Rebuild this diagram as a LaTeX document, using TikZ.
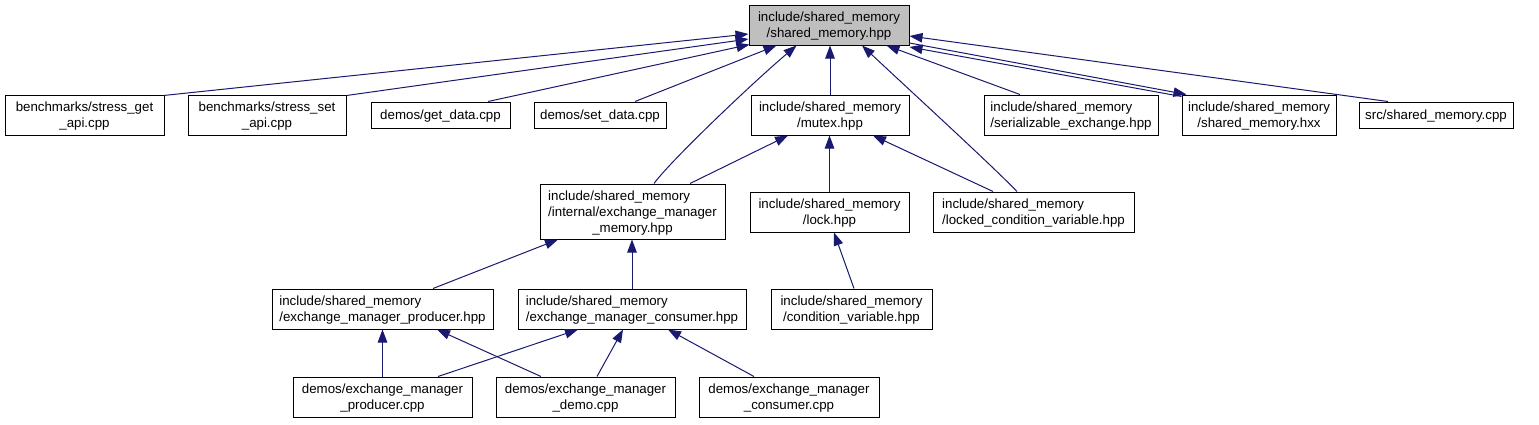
\documentclass[tikz,border=0pt]{standalone}
\usepackage{fontspec}
\setmainfont{Liberation Sans}
\usetikzlibrary{arrows.meta,calc}
\definecolor{edgeblue}{HTML}{191970}
\definecolor{hdrgray}{HTML}{BFBFBF}
\newcommand\lcen[1]{\multicolumn{1}{@{}c@{}}{#1}}
\newcommand\lbl[1]{\raisebox{0pt}[\height][\dimexpr\depth-3pt\relax]{\begin{tabular}{@{}l@{}}#1\end{tabular}}}
\tikzset{
  box/.style={draw=black, line width=1pt, fill=white, inner sep=0pt,
    font=\fontsize{13.3}{16}\selectfont},
  dep/.style={draw=edgeblue, line width=1pt, -{Triangle[length=13pt,width=9.5pt]}}
}
\begin{document}
\begin{tikzpicture}[x=1pt,y=-1pt]
\useasboundingbox (0,0) rectangle (1539,424);
% row 0
\node[box, fill=hdrgray, minimum width=160pt, minimum height=40pt] (shm) at (829,25) {\lbl{include/shared\_memory\\ \lcen{/shared\_memory.hpp}}};
% row 1
\node[box, minimum width=159pt, minimum height=40pt] (sget) at (84.5,115) {\lbl{benchmarks/stress\_get\\ \lcen{\_api.cpp}}};
\node[box, minimum width=158pt, minimum height=40pt] (sset) at (267,115) {\lbl{benchmarks/stress\_set\\ \lcen{\_api.cpp}}};
\node[box, minimum width=139pt, minimum height=26pt] (getd) at (440.5,115) {\lbl{demos/get\_data.cpp}};
\node[box, minimum width=132pt, minimum height=26pt] (setd) at (600,115) {\lbl{demos/set\_data.cpp}};
\node[box, minimum width=158pt, minimum height=40pt] (mutex) at (830,115) {\lbl{include/shared\_memory\\ \lcen{/mutex.hpp}}};
\node[box, minimum width=174pt, minimum height=40pt] (ser) at (1071,115) {\lbl{include/shared\_memory\\ \lcen{/serializable\_exchange.hpp}}};
\node[box, minimum width=154pt, minimum height=40pt] (hxx) at (1259,115) {\lbl{include/shared\_memory\\ \lcen{/shared\_memory.hxx}}};
\node[box, minimum width=154pt, minimum height=26pt] (src) at (1436,115) {\lbl{src/shared\_memory.cpp}};
% row 2
\node[box, minimum width=185pt, minimum height=55pt] (emm) at (632.5,211.5) {\lbl{include/shared\_memory\\/internal/exchange\_manager\\ \lcen{\_memory.hpp}}};
\node[box, minimum width=159pt, minimum height=40pt] (lock) at (829.5,212) {\lbl{include/shared\_memory\\ \lcen{/lock.hpp}}};
\node[box, minimum width=201pt, minimum height=40pt] (lcv) at (1033.5,212) {\lbl{include/shared\_memory\\ \lcen{/locked\_condition\_variable.hpp}}};
% row 3
\node[box, minimum width=221pt, minimum height=40pt] (prodh) at (382.5,309) {\lbl{include/shared\_memory\\ \lcen{/exchange\_manager\_producer.hpp}}};
\node[box, minimum width=228pt, minimum height=40pt] (consh) at (632,309) {\lbl{include/shared\_memory\\ \lcen{/exchange\_manager\_consumer.hpp}}};
\node[box, minimum width=161pt, minimum height=40pt] (condv) at (851.5,309) {\lbl{include/shared\_memory\\ \lcen{/condition\_variable.hpp}}};
% row 4
\node[box, minimum width=179pt, minimum height=40pt] (prodc) at (382.5,397) {\lbl{demos/exchange\_manager\\ \lcen{\_producer.cpp}}};
\node[box, minimum width=179pt, minimum height=40pt] (democ) at (585.5,397) {\lbl{demos/exchange\_manager\\ \lcen{\_demo.cpp}}};
\node[box, minimum width=180pt, minimum height=40pt] (consc) at (789,397) {\lbl{demos/exchange\_manager\\ \lcen{\_consumer.cpp}}};
% edges to shared_memory.hpp
\draw[dep] ($(sget.north east)+(-1,1)$) -- ($(shm.west)+(0,9)$);
\draw[dep] ($(sset.north east)+(0,1)$) -- ($(shm.west)+(0,14)$);
\draw[dep] ($(getd.north)+(47.5,0)$) -- ($(shm.south west)+(1,-1)$);
\draw[dep] ($(setd.north)+(35,0)$) -- ($(shm.south west)+(28,0)$);
\draw[dep] ($(emm.north)+(21.5,0)$) .. controls +(16,-22) and +(-47,40) .. ($(shm.south west)+(48,0)$);
\draw[dep] (mutex.north) -- (mutex.north |- shm.south);
\draw[dep] ($(lcv.north)+(-16.5,0)$) .. controls +(-25,-26) and +(48,45) .. ($(shm.south)+(33,0)$);
\draw[dep] ($(ser.north)+(-51,0)$) -- ($(shm.south east)+(-23,0)$);
\draw[dep] ($(src.north)+(-48,0)$) -- ($(shm.east)+(0,11)$);
\draw[dep] ($(hxx.north west)+(0,2)$) -- ($(shm.east)+(0,22)$);
\draw[dep] ($(shm.east)+(0,18)$) -- ($(hxx.north west)+(5,0)$);
% edges to mutex
\draw[dep] ($(emm.north)+(57.5,0)$) -- ($(mutex.south)+(-42,0)$);
\draw[dep] (lock.north) -- (lock.north |- mutex.south);
\draw[dep] ($(lcv.north)+(-40.5,0)$) -- ($(mutex.south)+(43,0)$);
% edge to lock
\draw[dep] ($(condv.north)+(2.5,0)$) -- ($(lock.south)+(4.5,0)$);
% edges to exchange_manager_memory
\draw[dep] ($(prodh.north)+(50.5,0)$) -- ($(emm.south)+(-74.5,0)$);
\draw[dep] (consh.north) -- (consh.north |- emm.south);
% edges to producer.hpp
\draw[dep] (prodc.north) -- (prodc.north |- prodh.south);
\draw[dep] ($(democ.north)+(-44.5,0)$) -- ($(prodh.south)+(54.5,0)$);
% edges to consumer.hpp
\draw[dep] ($(prodc.north)+(55.5,0)$) -- ($(consh.south)+(-54,0)$);
\draw[dep] ($(democ.north)+(11.5,0)$) -- ($(consh.south)+(-9,0)$);
\draw[dep] ($(consc.north)+(-35,0)$) -- ($(consh.south)+(36,0)$);
\end{tikzpicture}
\end{document}
